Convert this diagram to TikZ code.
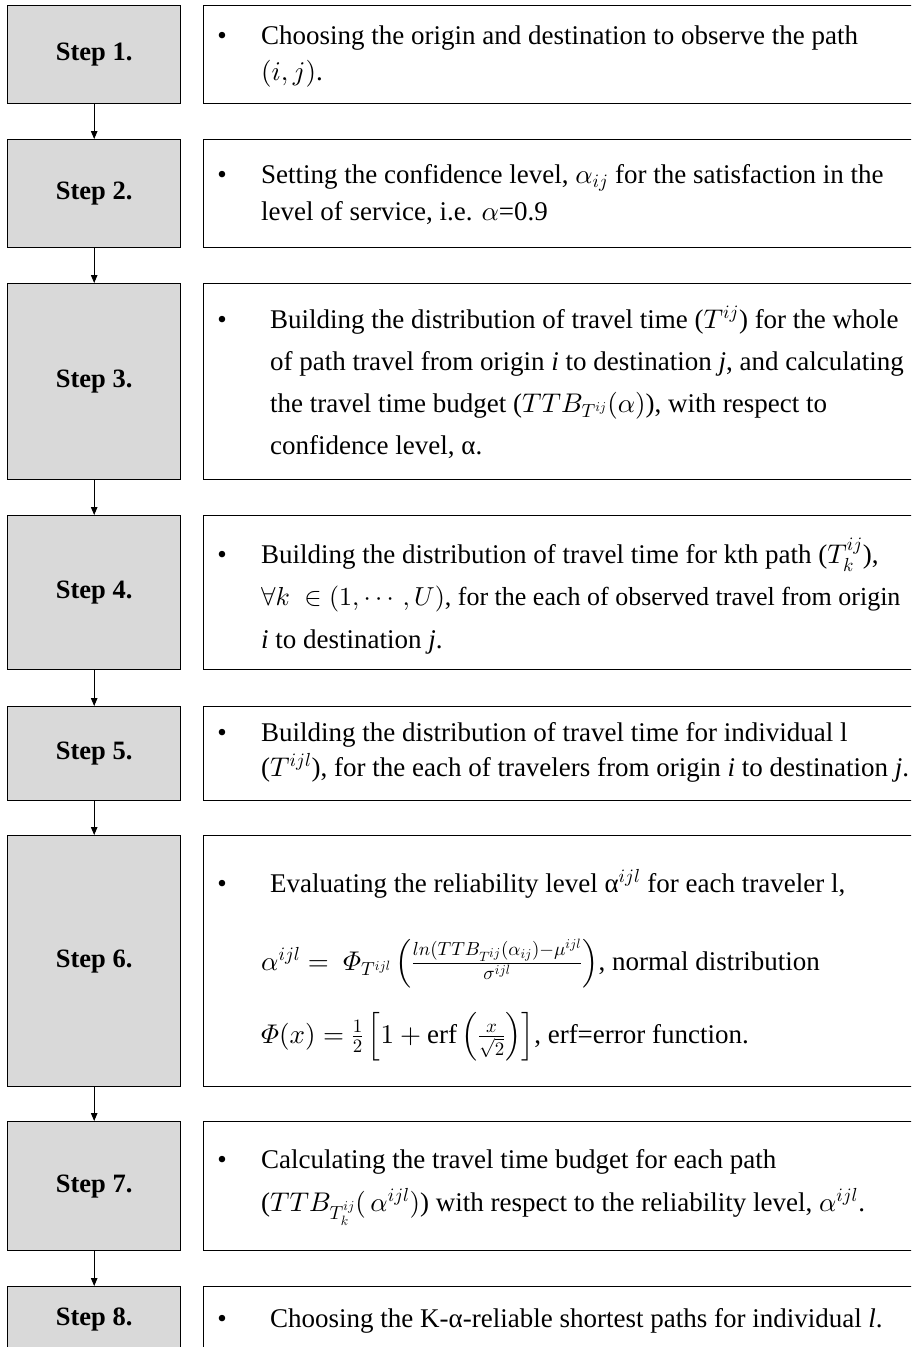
\documentclass[tikz,border=0pt]{standalone}
\usepackage{amsmath}
\usepackage{fontspec}
\setmainfont{Liberation Serif}
\usetikzlibrary{arrows.meta}
% scalable Computer Modern math at any size
\DeclareFontShape{OML}{cmm}{m}{it}{<->cmmi10}{}
\DeclareFontShape{OMS}{cmsy}{m}{n}{<->cmsy10}{}
\DeclareFontShape{OMX}{cmex}{m}{n}{<->cmex10}{}
\DeclareFontShape{OT1}{cmr}{m}{n}{<->cmr10}{}
\begin{document}
\begin{tikzpicture}[x=1pt,y=-1pt,
  stepbox/.style={draw=black, line width=1.4pt, fill=black!15, inner sep=0pt,
    anchor=north west, minimum width=173pt,
    font=\fontsize{26.5}{30}\selectfont\bfseries},
  textbox/.style={draw=black, line width=1.4pt, fill=white, inner sep=0pt,
    anchor=north west, minimum width=730pt},
  txt/.style={inner sep=0pt, anchor=base west, font=\fontsize{27}{30}\selectfont},
  bul/.style={inner sep=0pt, anchor=base, font=\fontsize{27}{30}\selectfont},
  arr/.style={line width=0.9pt, -{Triangle[length=8pt,width=6.5pt]}}]
\clip (0,0) rectangle (911,1347);
\fill[white] (0,0) rectangle (911,1347);

% left column: step labels
\node[stepbox, minimum height=98pt]  (s1) at (7,5)    {Step 1.};
\node[stepbox, minimum height=108pt] (s2) at (7,139)  {Step 2.};
\node[stepbox, minimum height=196pt] (s3) at (7,283)  {Step 3.};
\node[stepbox, minimum height=154pt] (s4) at (7,515)  {Step 4.};
\node[stepbox, minimum height=94pt]  (s5) at (7,706)  {Step 5.};
\node[stepbox, minimum height=251pt] (s6) at (7,835)  {Step 6.};
\node[stepbox, minimum height=129pt] (s7) at (7,1121) {Step 7.};
\node[stepbox, minimum height=66pt]  (s8) at (7,1286) {Step 8.};

% right column: description frames
\node[textbox, minimum height=98pt]  (d1) at (203,5)    {};
\node[textbox, minimum height=108pt] (d2) at (203,139)  {};
\node[textbox, minimum height=196pt] (d3) at (203,283)  {};
\node[textbox, minimum height=154pt] (d4) at (203,515)  {};
\node[textbox, minimum height=94pt]  (d5) at (203,706)  {};
\node[textbox, minimum height=251pt] (d6) at (203,835)  {};
\node[textbox, minimum height=129pt] (d7) at (203,1121) {};
\node[textbox, minimum height=100pt] (d8) at (203,1286) {};

% flow arrows
\draw[arr] (s1.south) -- (s2.north);
\draw[arr] (s2.south) -- (s3.north);
\draw[arr] (s3.south) -- (s4.north);
\draw[arr] (s4.south) -- (s5.north);
\draw[arr] (s5.south) -- (s6.north);
\draw[arr] (s6.south) -- (s7.north);
\draw[arr] (s7.south) -- (s8.north);

% Step 1
\node[bul] (b1) at (222,44) {\textbullet};
\node[txt] (t1a) at (261,44) {Choosing the origin and destination to observe the path};
\node[txt] (t1b) at (261,80) {$(i,j)$.};

% Step 2
\node[bul] (b2) at (222,183) {\textbullet};
\node[txt] (t2a) at (261,183) {Setting the confidence level, $\alpha_{ij}$ for the satisfaction in the};
\node[txt] (t2b) at (261,220) {level of service, i.e. $\alpha$=0.9};

% Step 3
\node[bul] (b3) at (222,328) {\textbullet};
\node[txt] (t3a) at (270,328) {Building the distribution of travel time ($T^{ij}$) for the whole};
\node[txt] (t3b) at (270,370) {of path travel from origin \textit{i} to destination \textit{j}, and calculating};
\node[txt] (t3c) at (270,412) {the travel time budget ($TTB_{T^{ij}}(\alpha)$), with respect to};
\node[txt] (t3d) at (270,454) {confidence level, α.};

% Step 4
\node[bul] (b4) at (222,563) {\textbullet};
\node[txt] (t4a) at (261,563) {Building the distribution of travel time for kth path ($T_k^{ij}$),};
\node[txt, font=\fontsize{26}{30}\selectfont] (t4b) at (261,605) {$\forall k\;\in(1,\cdots,U)$, for the each of observed travel from origin};
\node[txt] (t4c) at (261,648) {\textit{i} to destination \textit{j}.};

% Step 5
\node[bul] (b5) at (222,741) {\textbullet};
\node[txt] (t5a) at (261,741) {Building the distribution of travel time for individual l};
\node[txt] (t5b) at (261,776) {($T^{ijl}$), for the each of travelers from origin \textit{i} to destination \textit{j}.};

% Step 6
\node[bul] (b6) at (222,892) {\textbullet};
\node[txt] (t6a) at (270,892) {Evaluating the reliability level α$^{ijl}$ for each traveler l,};
\node[txt] (t6b) at (261,970) {$\alpha^{ijl}=\ \varPhi_{T^{ijl}}\left(\frac{ln(TTB_{T^{ij}}(\alpha_{ij})-\mu^{ijl}}{\sigma^{ijl}}\right)$, normal distribution};
\node[txt] (t6c) at (261,1043) {$\varPhi(x)=\frac{1}{2}\left[1+\mathrm{erf}\left(\frac{x}{\sqrt{2}}\right)\right]$, erf=error function.};

% Step 7
\node[bul] (b7) at (222,1168) {\textbullet};
\node[txt] (t7a) at (261,1168) {Calculating the travel time budget for each path};
\node[txt] (t7b) at (261,1211) {($TTB_{T_k^{ij}}(\,\alpha^{ijl})$) with respect to the reliability level, $\alpha^{ijl}$.};

% Step 8
\node[bul] (b8) at (222,1327) {\textbullet};
\node[txt] (t8a) at (270,1327) {Choosing the K-α-reliable shortest paths for individual \textit{l}.};
\end{tikzpicture}
\end{document}
